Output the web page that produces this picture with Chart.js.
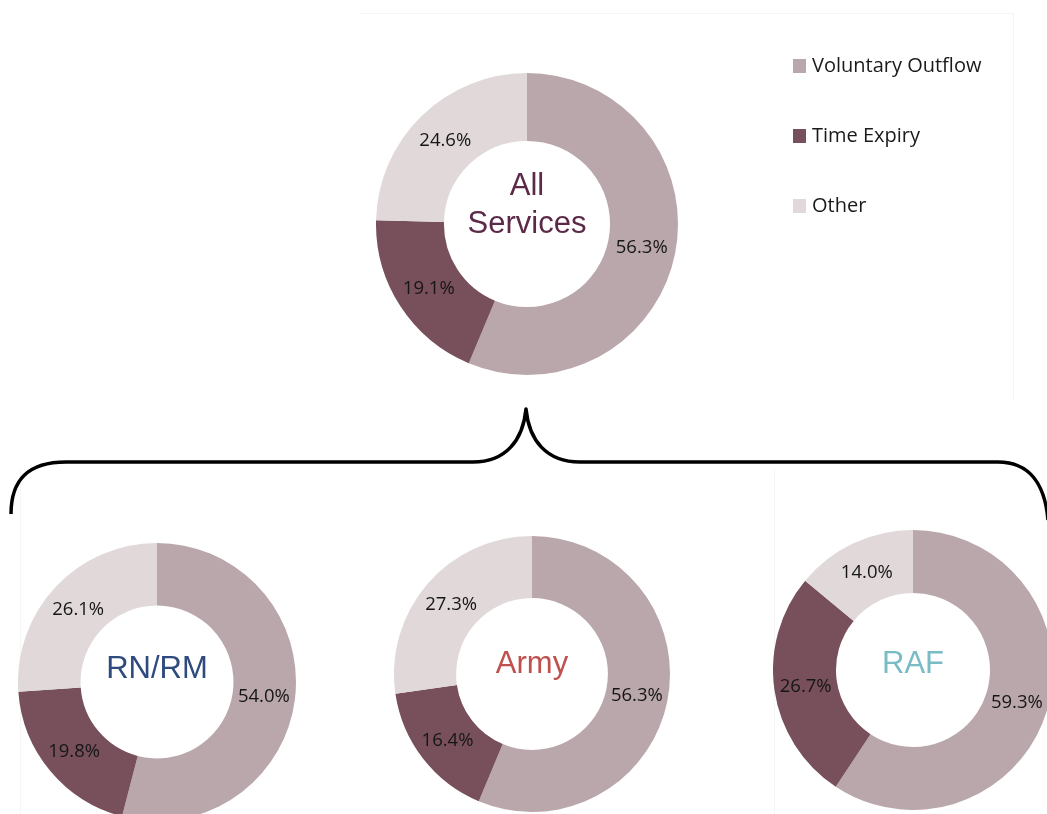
<!DOCTYPE html>
<html>
<head>
<meta charset="utf-8">
<script src="https://cdn.jsdelivr.net/npm/chart.js@4/dist/chart.umd.min.js"></script>
<style>
  html, body { margin:0; padding:0; background:#ffffff; }
  body { width:1047px; height:814px; position:relative; overflow:hidden; font-family:"Open Sans", sans-serif; }
  .box { position:absolute; }
  #deco { position:absolute; left:0; top:0; }
  .leg { position:absolute; left:793px; font-family:"Open Sans", sans-serif; font-size:20px; color:#1a1a1a; line-height:20px; white-space:nowrap; }
  .leg span.sw { position:absolute; left:0; top:4px; width:13px; height:14px; }
  .leg span.tx { position:absolute; left:19px; top:0px; }
</style>
</head>
<body>
<canvas id="deco" width="1047" height="814"></canvas>
<div class="box" id="b0"><canvas id="c0"></canvas></div>
<div class="box" id="b1"><canvas id="c1"></canvas></div>
<div class="box" id="b2"><canvas id="c2"></canvas></div>
<div class="box" id="b3"><canvas id="c3"></canvas></div>
<div id="legend"></div>
<script>
// ---- data ----
const categories = ["Voluntary Outflow", "Time Expiry", "Other"];
const colors = ["#b9a7ab", "#77505c", "#e0d8d9"];
const allServices = [56.3, 19.1, 24.6];
const rnrm = [54.0, 19.8, 26.1];
const army = [56.3, 16.4, 27.3];
const raf = [59.3, 26.7, 14.0];
const chartTitles = [["All", "Services"], ["RN/RM"], ["Army"], ["RAF"]];
const titleColors = ["#5b2a48", "#2f4a7c", "#c0504d", "#79bcc5"];

// ---- layout ----
const layouts = [
  { cx: 527, cy: 224, r: 151, titleY: [195, 233] },
  { cx: 157, cy: 682, r: 139, titleY: [678] },
  { cx: 532, cy: 674, r: 138, titleY: [673] },
  { cx: 913, cy: 670, r: 140, titleY: [673] }
];
const seriesList = [allServices, rnrm, army, raf];

// decoration: faint frame lines and brace
const d = document.getElementById('deco').getContext('2d');
d.strokeStyle = '#f5f5f5'; d.lineWidth = 1;
d.beginPath(); d.moveTo(360, 13.5); d.lineTo(1013, 13.5); d.stroke();
d.beginPath(); d.moveTo(1013.5, 13); d.lineTo(1013.5, 400); d.stroke();
d.beginPath(); d.moveTo(20.5, 470); d.lineTo(20.5, 814); d.stroke();
d.beginPath(); d.moveTo(774.5, 470); d.lineTo(774.5, 814); d.stroke();
d.strokeStyle = '#000000'; d.lineWidth = 3.5; d.lineCap = 'butt'; d.lineJoin = 'round';
d.beginPath();
d.moveTo(11, 514);
d.bezierCurveTo(11, 480, 28, 462, 66, 462);
d.lineTo(473, 462);
d.bezierCurveTo(506, 462, 523, 440, 526, 409);
d.bezierCurveTo(529, 440, 546, 462, 580, 462);
d.lineTo(998, 462);
d.bezierCurveTo(1030, 462, 1045, 485, 1048, 520);
d.stroke();

// legend
const legendEl = document.getElementById('legend');
categories.forEach((c, i) => {
  const row = document.createElement('div');
  row.className = 'leg';
  row.style.top = (55 + i * 70) + 'px';
  row.innerHTML = '<span class="sw" style="background:' + colors[i] + '"></span><span class="tx">' + c + '</span>';
  legendEl.appendChild(row);
});

const labelPlugin = {
  id: 'labelsAndTitle',
  afterDatasetsDraw(chart, args, opts) {
    const ctx = chart.ctx;
    const meta = chart.getDatasetMeta(0);
    const data = chart.data.datasets[0].data;
    ctx.save();
    ctx.font = '18.5px "Open Sans"';
    ctx.fillStyle = '#161616';
    ctx.textAlign = 'center';
    ctx.textBaseline = 'middle';
    meta.data.forEach((arc, i) => {
      const p = arc.tooltipPosition();
      ctx.fillText(data[i].toFixed(1) + '%', p.x, p.y + 1);
    });
    // center title
    const area = chart.chartArea;
    const cx = (area.left + area.right) / 2;
    ctx.font = '31px "Liberation Sans", Arial, sans-serif';
    ctx.fillStyle = opts.color;
    ctx.textBaseline = 'alphabetic';
    opts.lines.forEach((ln, k) => {
      ctx.fillText(ln, cx, opts.ys[k]);
    });
    ctx.restore();
  }
};

layouts.forEach((L, idx) => {
  const box = document.getElementById('b' + idx);
  box.style.left = (L.cx - L.r) + 'px';
  box.style.top = (L.cy - L.r) + 'px';
  box.style.width = (2 * L.r) + 'px';
  box.style.height = (2 * L.r) + 'px';
  const ys = L.titleY.map(y => y - (L.cy - L.r));
  new Chart(document.getElementById('c' + idx), {
    type: 'doughnut',
    data: {
      labels: categories,
      datasets: [{
        data: seriesList[idx],
        backgroundColor: colors,
        borderWidth: 0,
        hoverOffset: 0
      }]
    },
    options: {
      responsive: true,
      maintainAspectRatio: false,
      animation: false,
      cutout: '55%',
      layout: { padding: 0 },
      plugins: {
        legend: { display: false },
        tooltip: { enabled: false },
        labelsAndTitle: { lines: chartTitles[idx], color: titleColors[idx], ys: ys }
      }
    },
    plugins: [labelPlugin]
  });
});
</script>
</body>
</html>
